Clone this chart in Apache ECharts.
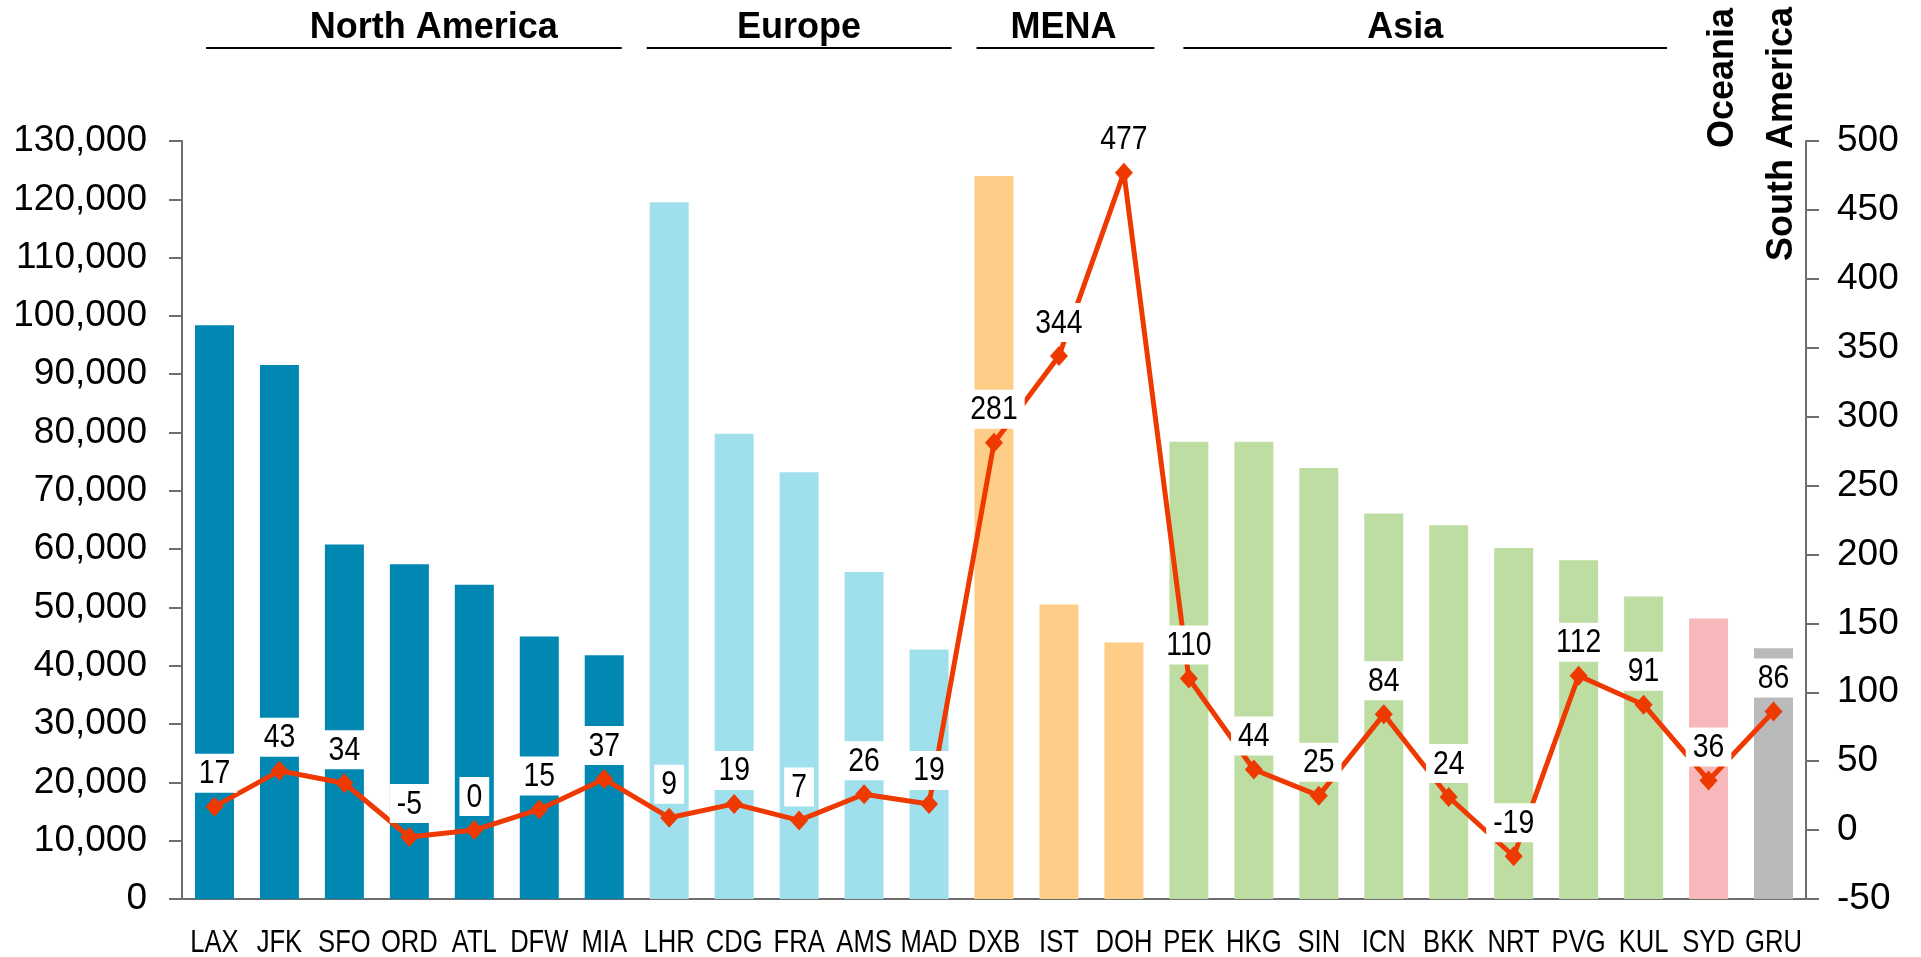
<!DOCTYPE html>
<html>
<head>
<meta charset="utf-8">
<script src="https://cdn.jsdelivr.net/npm/echarts@6/dist/echarts.min.js"></script>
<style>
  html, body { margin: 0; padding: 0; background: #ffffff; }
  #chart { width: 1921px; height: 957px; }
</style>
</head>
<body>
<div id="chart"></div>
<script>
// Airports, ordered by region
const airports = ['LAX', 'JFK', 'SFO', 'ORD', 'ATL', 'DFW', 'MIA',
                  'LHR', 'CDG', 'FRA', 'AMS', 'MAD',
                  'DXB', 'IST', 'DOH',
                  'PEK', 'HKG', 'SIN', 'ICN', 'BKK', 'NRT', 'PVG', 'KUL',
                  'SYD', 'GRU'];

// Bar values (left axis)
const volume = [98400, 91600, 60800, 57400, 53900, 45000, 41800,
                119500, 79800, 73200, 56100, 42800,
                124000, 50500, 44000,
                78400, 78400, 73900, 66100, 64100, 60200, 58100, 51900,
                48100, 43000];

// Line values (right axis)
const growth = [17, 43, 34, -5, 0, 15, 37,
                9, 19, 7, 26, 19,
                281, 344, 477,
                110, 44, 25, 84, 24, -19, 112, 91,
                36, 86];

// Regions: name, number of airports, bar colour
const regionNames  = ['North America', 'Europe', 'MENA', 'Asia', 'Oceania', 'South America'];
const regionSizes  = [7, 5, 3, 8, 1, 1];
const regionColors = ['#0088B3', '#9FE0EC', '#FECD87', '#BEDDA3', '#F8B7BB', '#BABABA'];

// Axis ticks
const leftTicks  = { min: 0, max: 130000, step: 10000 };
const rightTicks = { min: -50, max: 500, step: 50 };

const FONT = '"Liberation Sans", Arial, sans-serif';
const AXIS_GREY = '#6E6E6E';
const LINE_RED = '#EE3A00';

// condensed text: regular face squeezed horizontally
const VALUE_FONT = '33px ' + FONT, VALUE_SQUEEZE = 0.86;
const CAT_FONT = '32px ' + FONT, CAT_SQUEEZE = 0.8;

const measureCtx = document.createElement('canvas').getContext('2d');
function textWidth(str, font) { measureCtx.font = font; return measureCtx.measureText(str).width; }

// colour per bar from its region
const barColors = [];
regionSizes.forEach((n, r) => { for (let i = 0; i < n; i++) barColors.push(regionColors[r]); });

const chart = echarts.init(document.getElementById('chart'), null, { renderer: 'canvas' });

const axisCommon = {
  axisLine: { show: true, lineStyle: { color: AXIS_GREY, width: 2 } },
  axisTick: { show: true, inside: false, length: 13, lineStyle: { color: AXIS_GREY, width: 2 } },
  splitLine: { show: false }
};

chart.setOption({
  animation: false,
  backgroundColor: '#ffffff',
  grid: { left: 182, right: 115, top: 141, bottom: 58, containLabel: false },
  xAxis: {
    type: 'category',
    data: airports,
    axisLine: { show: true, lineStyle: { color: AXIS_GREY, width: 2 } },
    axisTick: { show: false },
    axisLabel: { show: false }
  },
  yAxis: [
    Object.assign({
      type: 'value', position: 'left',
      min: leftTicks.min, max: leftTicks.max, interval: leftTicks.step,
      axisLabel: {
        margin: 35, color: '#000', fontSize: 37, fontFamily: FONT,
        formatter: v => v.toLocaleString('en-US')
      }
    }, axisCommon),
    Object.assign({
      type: 'value', position: 'right',
      min: rightTicks.min, max: rightTicks.max, interval: rightTicks.step,
      axisLabel: { margin: 31, color: '#000', fontSize: 37, fontFamily: FONT }
    }, axisCommon)
  ],
  series: [
    {
      type: 'bar',
      yAxisIndex: 0,
      barWidth: 39,
      data: volume.map((v, i) => ({ value: v, itemStyle: { color: barColors[i] } })),
      z: 2
    },
    {
      type: 'line',
      yAxisIndex: 1,
      data: growth,
      z: 3,
      lineStyle: { color: LINE_RED, width: 5 },
      itemStyle: { color: LINE_RED },
      symbol: 'diamond',
      symbolSize: [18, 20]
    },
    {
      // value tags on white boxes above each line point
      type: 'custom',
      yAxisIndex: 1,
      z: 4,
      silent: true,
      data: growth.map((g, i) => [i, g]),
      renderItem(params, api) {
        const pt = api.coord([api.value(0), api.value(1)]);
        const str = String(api.value(1));
        const w = textWidth(str, VALUE_FONT) * VALUE_SQUEEZE + 14;
        const h = 39;
        const cy = pt[1] - 33.5;
        return {
          type: 'group',
          children: [
            { type: 'rect', shape: { x: pt[0] - w / 2, y: cy - h / 2, width: w, height: h },
              style: { fill: '#ffffff' } },
            { type: 'text', x: pt[0], y: cy + 1, scaleX: VALUE_SQUEEZE,
              style: { text: str, font: VALUE_FONT, fill: '#000', align: 'center', verticalAlign: 'middle' } }
          ]
        };
      }
    },
    {
      // airport codes under the category axis
      type: 'custom',
      yAxisIndex: 0,
      z: 4,
      silent: true,
      data: airports.map((a, i) => [i, 0]),
      renderItem(params, api) {
        const pt = api.coord([api.value(0), 0]);
        return {
          type: 'text', x: pt[0], y: pt[1] + 44, scaleX: CAT_SQUEEZE,
          style: { text: airports[params.dataIndex], font: CAT_FONT, fill: '#000',
                   align: 'center', verticalAlign: 'middle' }
        };
      }
    }
  ]
});

// Region headers drawn above the plot, positioned from the category axis
function drawRegionHeaders() {
  const band = chart.convertToPixel({ xAxisIndex: 0 }, 1) - chart.convertToPixel({ xAxisIndex: 0 }, 0);
  const center = i => chart.convertToPixel({ xAxisIndex: 0 }, i);
  // inset of the rule from band edges, and text shift from rule centre
  const ruleInset = [[24, 15], [10, 10], [15, 2], [27, 9]];
  const textShift = [20, 0, -2, -20];
  const graphics = [];
  let start = 0;
  regionSizes.forEach((n, r) => {
    const end = start + n - 1;
    if (r < 4) {
      const x0 = center(start) - band / 2 + ruleInset[r][0];
      const x1 = center(end) + band / 2 - ruleInset[r][1];
      graphics.push({
        type: 'line',
        shape: { x1: x0, y1: 48, x2: x1, y2: 48 },
        style: { stroke: '#000', lineWidth: 2 }
      });
      graphics.push({
        type: 'text',
        x: (x0 + x1) / 2 + textShift[r], y: 28,
        style: {
          text: regionNames[r], fill: '#000', font: 'bold 36px ' + FONT,
          align: 'center', verticalAlign: 'middle'
        }
      });
    } else {
      const bottom = r === 4 ? 148 : 261;
      const shift = r === 4 ? 15 : 9;
      graphics.push({
        type: 'text',
        x: center(start) + shift, y: bottom,
        rotation: Math.PI / 2,
        style: {
          text: regionNames[r], fill: '#000', font: 'bold 36px ' + FONT,
          align: 'left', verticalAlign: 'middle'
        }
      });
    }
    start = end + 1;
  });
  chart.setOption({ graphic: { elements: graphics } });
}
drawRegionHeaders();
</script>
</body>
</html>
